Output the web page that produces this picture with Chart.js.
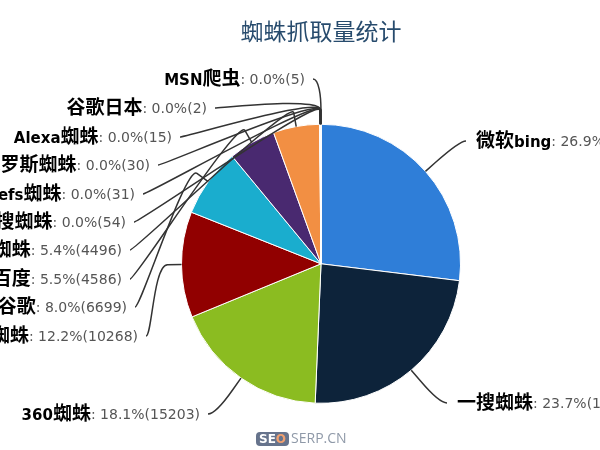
<!DOCTYPE html>
<html>
<head>
<meta charset="utf-8">
<script src="https://cdn.jsdelivr.net/npm/chart.js@4"></script>
<style>
    html, body { margin: 0; padding: 0; background: #fff; overflow: hidden; }
    #wrap { position: relative; width: 600px; height: 450px; }
    #mark { position: absolute; left: 256px; top: 431px; height: 14px; font: 14px/14px "Open Sans", sans-serif; color: #8f99a8; white-space: nowrap; }
    #mark b { display: inline-block; background: #66738c; color: #fff; font: bold 12px/14px "DejaVu Sans", sans-serif; padding: 0 3px; margin-right: 2px; border-radius: 4px; }
    #mark i { font-style: normal; color: #f0a070; }
</style>
</head>
<body>
<div id="wrap">
    <canvas id="c" width="600" height="450"></canvas>
    <div id="mark"><b>SE<i>O</i></b>SERP.CN</div>
</div>
<script>
const names = ['微软bing', '一搜蜘蛛', '360蜘蛛', '搜狗蜘蛛', '谷歌', '百度', '雅虎蜘蛛', '搜搜蜘蛛', 'Ahrefs蜘蛛', '俄罗斯蜘蛛', 'Alexa蜘蛛', '谷歌日本', 'MSN爬虫'];
const counts = [22596, 19908, 15203, 10268, 6699, 4586, 4496, 54, 31, 30, 15, 2, 5];
const percents = [26.9, 23.7, 18.1, 12.2, 8.0, 5.5, 5.4, 0.0, 0.0, 0.0, 0.0, 0.0, 0.0];
const colors = ['#2f7ed8', '#0d233a', '#8bbc21', '#910000', '#1aadce', '#492970', '#f28f43', '#77a1e5', '#c42525', '#a6c96a', '#2f7ed8', '#0d233a', '#8bbc21'];

// where each label's connector starts, the text sits just beyond it
const labelX = [466, 447, 208, 146, 135, 130, 130, 134, 143, 158, 180, 215, 313];
const labelY = [141, 403, 414, 336, 307, 279, 250, 222, 194, 165, 137, 108, 79];

const boldCjk = 'bold 19px "Noto Sans CJK SC", sans-serif';
const boldLatin = 'bold 15px "DejaVu Sans", sans-serif';
const plainFont = '14px "DejaVu Sans", sans-serif';

// latin and cjk parts of a name need different sizes
function nameRuns(ctx, name) {
    return name.match(/[\x00-\x7f]+|[^\x00-\x7f]+/g).map(text => {
        const font = /^[\x00-\x7f]/.test(text) ? boldLatin : boldCjk;
        ctx.font = font;
        return { text, font, width: ctx.measureText(text).width };
    });
}

const pieLabels = {
    id: 'pieLabels',
    afterDatasetsDraw(chart) {
        const ctx = chart.ctx;
        const arcs = chart.getDatasetMeta(0).data;
        ctx.save();
        arcs.forEach((arc, i) => {
            const mid = (arc.startAngle + arc.endAngle) / 2;
            const r = arc.outerRadius;
            const at = d => [arc.x + Math.cos(mid) * (r + d), arc.y + Math.sin(mid) * (r + d)];
            const edge = at(0);
            const knee = at(14);
            const pull = at(28);
            const onRight = Math.cos(mid) > 0;
            const sx = labelX[i];
            const sy = labelY[i];

            // soft connector
            ctx.strokeStyle = '#333';
            ctx.lineWidth = 1.5;
            ctx.beginPath();
            ctx.moveTo(sx, sy);
            ctx.bezierCurveTo(sx + (onRight ? -6 : 6), sy, pull[0], pull[1], knee[0], knee[1]);
            ctx.lineTo(edge[0], edge[1]);
            ctx.stroke();

            // label: bold name, plain value
            const value = ': ' + percents[i].toFixed(1) + '%(' + counts[i] + ')';
            const runs = nameRuns(ctx, names[i]);
            const nameW = runs.reduce((a, run) => a + run.width, 0);
            ctx.font = plainFont;
            const valueW = ctx.measureText(value).width;
            let x = onRight ? sx + 10 : sx - 8 - nameW - valueW;
            ctx.textBaseline = 'alphabetic';
            ctx.textAlign = 'left';
            ctx.fillStyle = '#000';
            runs.forEach(run => {
                ctx.font = run.font;
                ctx.fillText(run.text, x, sy + 6);
                x += run.width;
            });
            ctx.font = plainFont;
            ctx.fillStyle = '#555';
            ctx.fillText(value, x, sy + 5);
        });
        ctx.restore();
    }
};

new Chart(document.getElementById('c'), {
    type: 'pie',
    data: {
        labels: names,
        datasets: [{
            data: counts,
            backgroundColor: colors,
            borderColor: '#fff',
            borderWidth: 1
        }]
    },
    options: {
        responsive: false,
        animation: false,
        layout: {
            padding: { top: 17, bottom: 46, left: 181, right: 139 }
        },
        plugins: {
            legend: { display: false },
            tooltip: { enabled: false },
            title: {
                display: true,
                fullSize: false,
                text: '蜘蛛抓取量统计',
                color: '#274b6d',
                font: { family: '"Noto Sans CJK SC", sans-serif', size: 23, weight: 'normal', lineHeight: 1.2 },
                padding: { top: 0, bottom: 79 }
            }
        }
    },
    plugins: [pieLabels]
});
</script>
</body>
</html>
